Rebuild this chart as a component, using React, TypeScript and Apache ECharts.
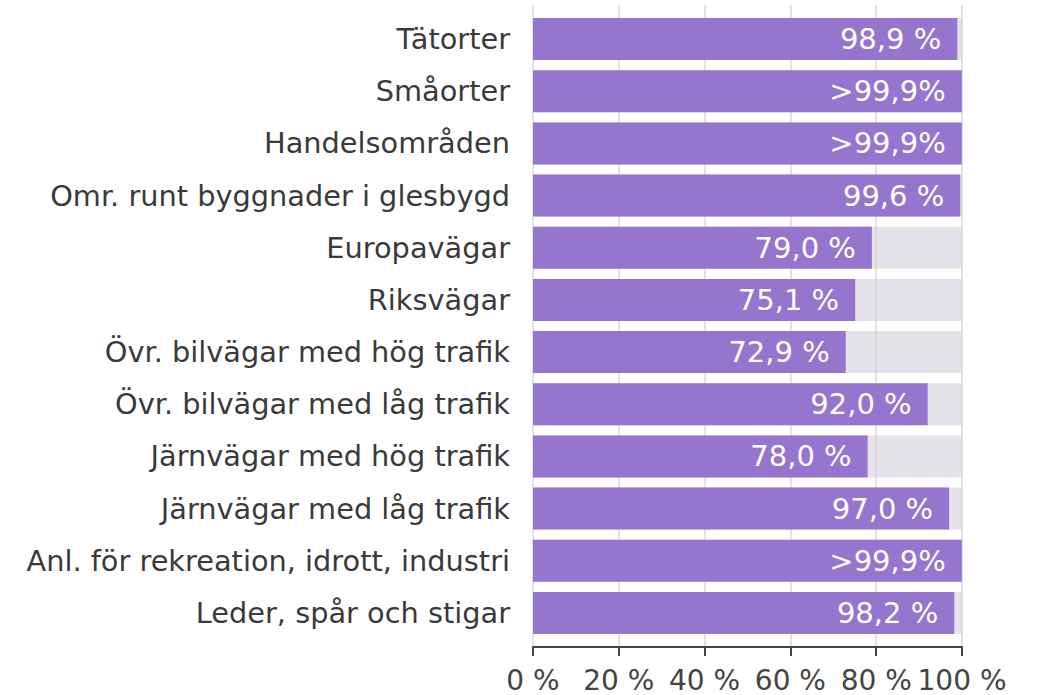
import React, { useEffect, useRef } from "react";
import * as echarts from "echarts";

const categories = [
  "Tätorter",
  "Småorter",
  "Handelsområden",
  "Omr. runt byggnader i glesbygd",
  "Europavägar",
  "Riksvägar",
  "Övr. bilvägar med hög trafik",
  "Övr. bilvägar med låg trafik",
  "Järnvägar med hög trafik",
  "Järnvägar med låg trafik",
  "Anl. för rekreation, idrott, industri",
  "Leder, spår och stigar",
];
const values = [98.9, 99.95, 99.95, 99.6, 79.0, 75.1, 72.9, 92.0, 78.0, 97.0, 99.95, 98.2];
const valueLabels = [
  "98,9 %", ">99,9%", ">99,9%", "99,6 %", "79,0 %", "75,1 %",
  "72,9 %", "92,0 %", "78,0 %", "97,0 %", ">99,9%", "98,2 %",
];
const xTicks = [0, 20, 40, 60, 80, 100];

export default function App() {
  const ref = useRef<HTMLDivElement>(null);
  useEffect(() => {
    if (!ref.current) return;
    const chart = echarts.init(ref.current, null, { renderer: "svg" });
    const font = "DejaVu Sans";
    const xMin = xTicks[0];
    const xMax = xTicks[xTicks.length - 1];
    chart.setOption({
      animation: false,
      backgroundColor: "#ffffff",
      textStyle: { fontFamily: font },
      grid: [
        { left: 533, right: 76, top: 13, bottom: 56, containLabel: false },
        { left: 533, right: 76, top: 5, bottom: 48, containLabel: false },
      ],
      xAxis: [
        {
          gridIndex: 0,
          type: "value",
          min: xMin,
          max: xMax,
          interval: 20,
          axisLine: { show: false },
          axisTick: { show: false },
          axisLabel: { show: false },
          splitLine: { show: false },
        },
        {
          gridIndex: 1,
          type: "value",
          min: xMin,
          max: xMax,
          interval: 20,
          axisLine: { show: true, lineStyle: { color: "#444", width: 2 } },
          axisTick: { show: true, length: 9, lineStyle: { color: "#444", width: 2 } },
          axisLabel: {
            fontSize: 28,
            color: "#444",
            margin: 19,
            fontFamily: font,
            formatter: (v: number) => `${v} %`,
          },
          splitLine: { show: true, lineStyle: { color: "#e2e2e2", width: 2 } },
        },
      ],
      yAxis: [
        {
          gridIndex: 0,
          type: "category",
          data: categories,
          inverse: true,
          axisLine: { show: false },
          axisTick: { show: false },
          axisLabel: { fontSize: 28.8, color: "#3a3a3a", margin: 23, fontFamily: font },
        },
        {
          gridIndex: 1,
          type: "value",
          show: false,
        },
      ],
      series: [
        {
          type: "bar",
          xAxisIndex: 0,
          yAxisIndex: 0,
          data: values,
          barWidth: 42,
          itemStyle: { color: "#9575cd" },
          showBackground: true,
          backgroundStyle: { color: "rgba(210,208,218,0.6)" },
          label: {
            show: true,
            position: "insideRight",
            distance: 16,
            color: "#ffffff",
            fontSize: 29,
            fontFamily: font,
            formatter: (p: any) => valueLabels[p.dataIndex],
          },
        },
      ],
    });
    return () => chart.dispose();
  }, []);
  return (
    <div
      ref={ref}
      style={{ position: "fixed", left: 0, top: 0, width: 1038, height: 695 }}
    />
  );
}
